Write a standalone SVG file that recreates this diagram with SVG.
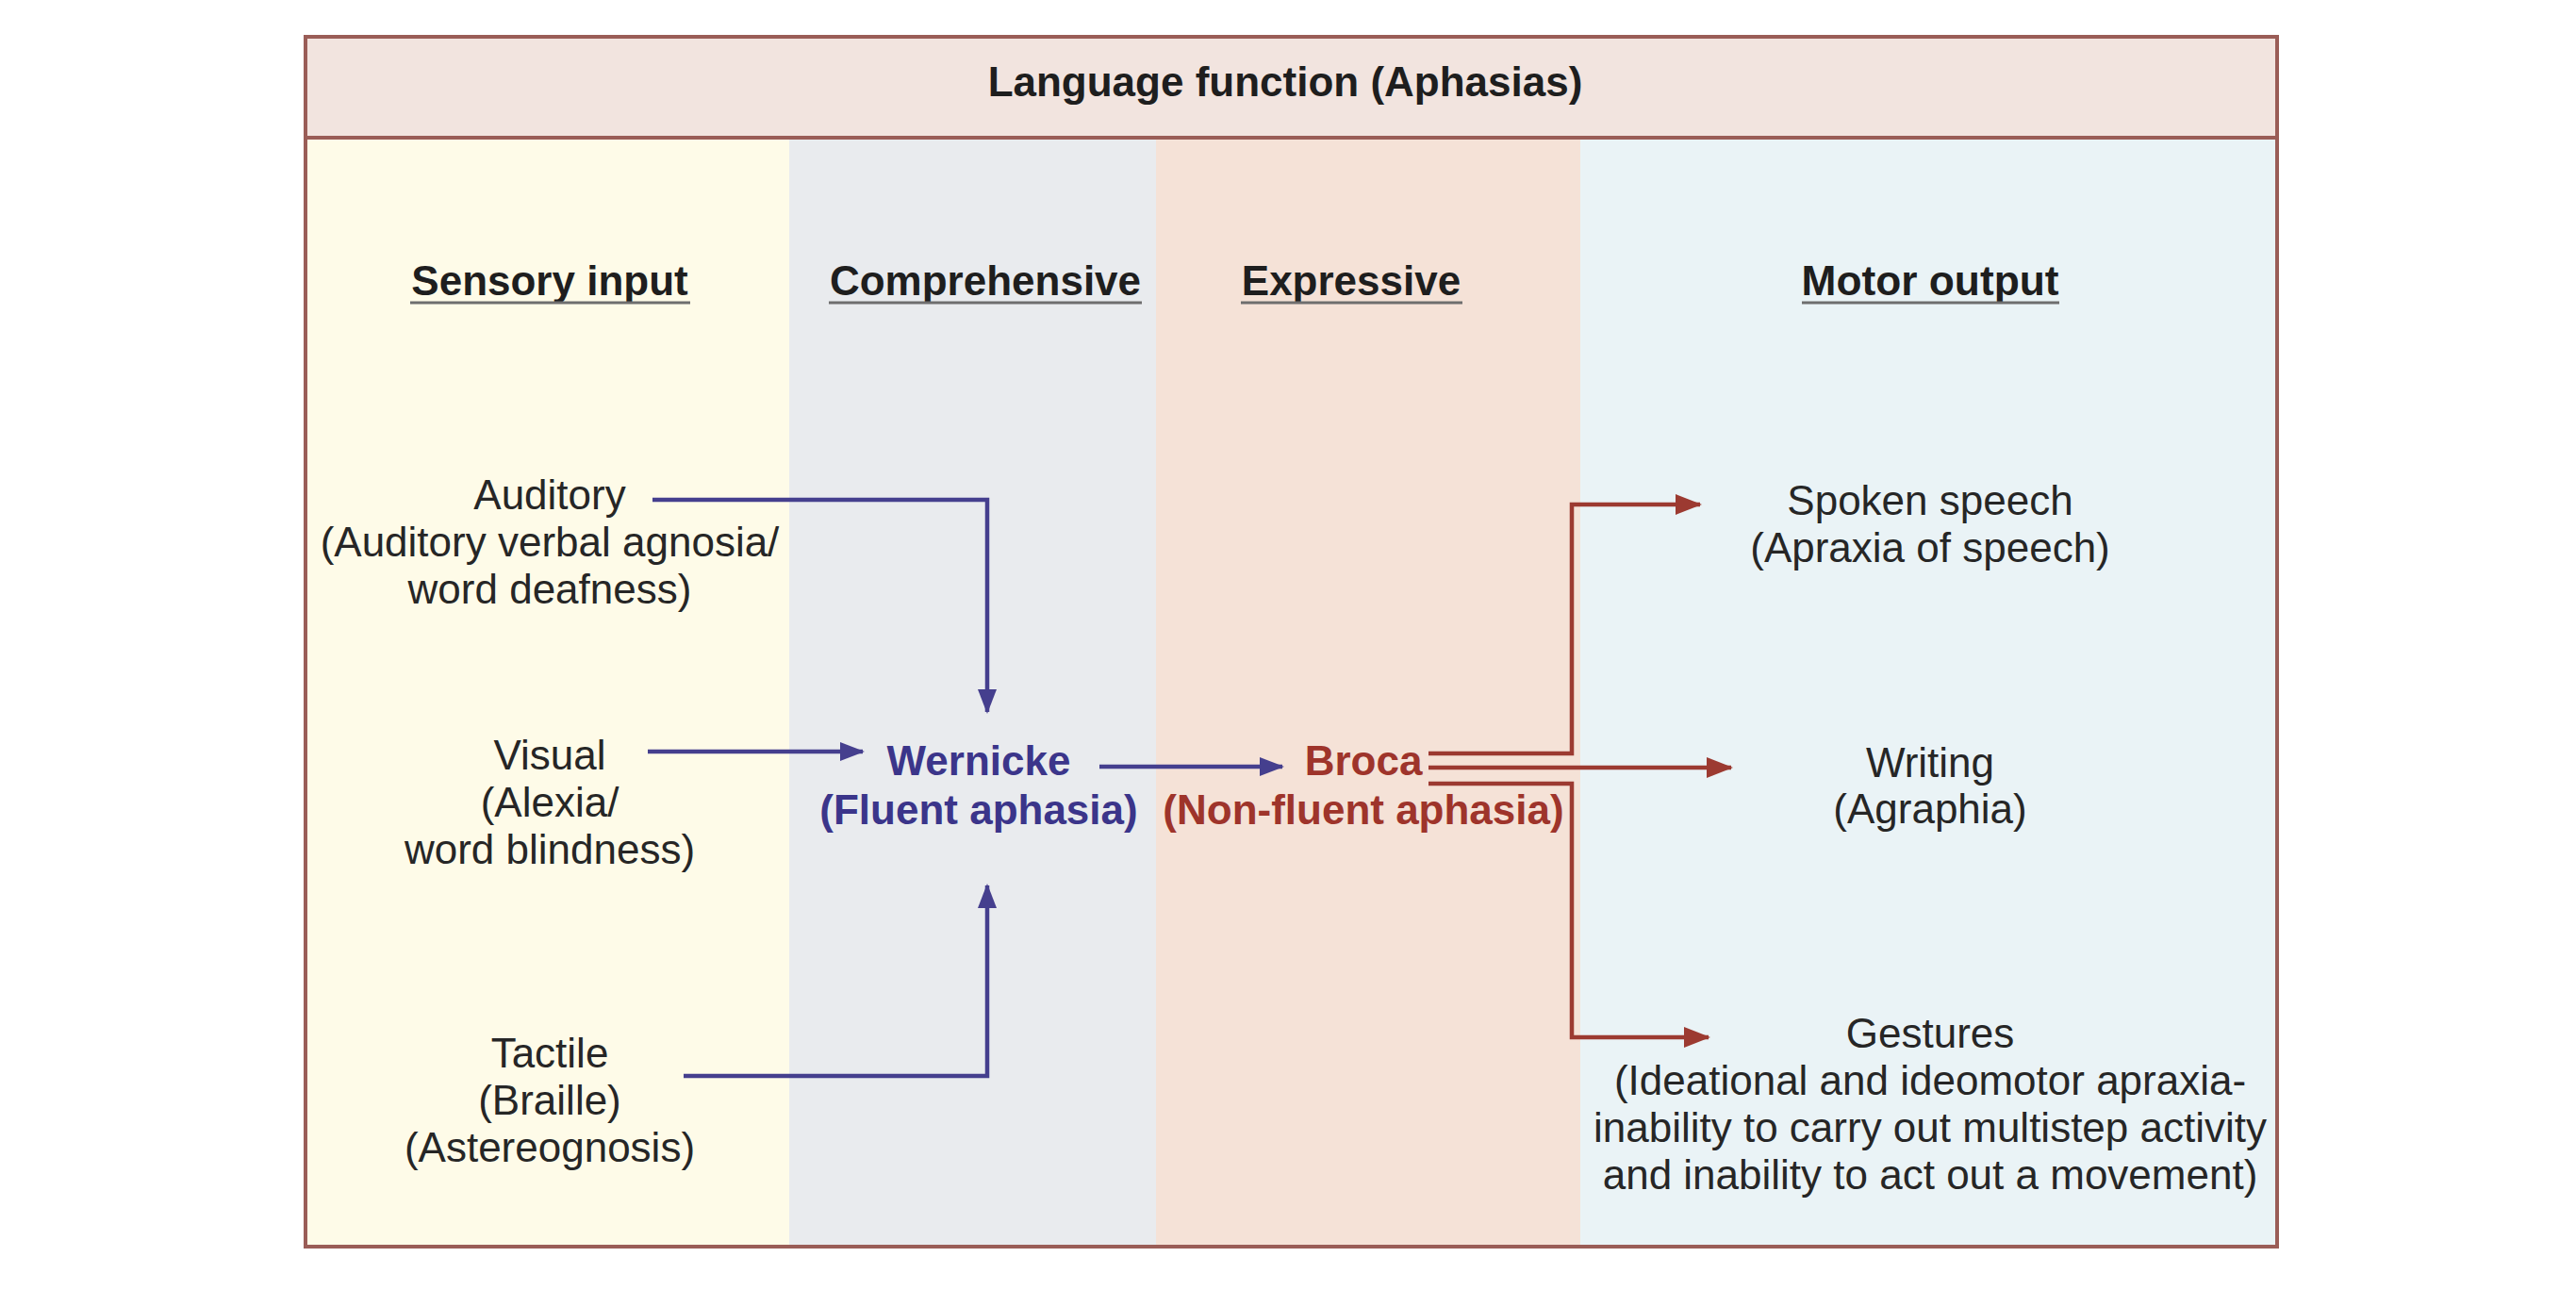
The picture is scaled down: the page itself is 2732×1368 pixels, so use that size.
<svg xmlns="http://www.w3.org/2000/svg" width="2732" height="1368" viewBox="0 0 2732 1368">
<style>
.t{font-family:"Liberation Sans",Arial,sans-serif;font-size:44px;fill:#262626;text-anchor:middle}
.b{font-weight:bold}
.h{font-weight:bold;fill:#1e1e1e}
.ul{stroke:#6e6e6e;stroke-width:3}
.blue{fill:none;stroke:#453f8e;stroke-width:4.5}
.red{fill:none;stroke:#9c3a31;stroke-width:4.5}
</style>
<defs>
<marker id="ab" markerUnits="userSpaceOnUse" markerWidth="26" markerHeight="20" refX="24" refY="10" orient="auto"><path d="M0,0 L26,10 L0,20 z" fill="#453f8e"/></marker>
<marker id="ar" markerUnits="userSpaceOnUse" markerWidth="28" markerHeight="22" refX="26" refY="11" orient="auto"><path d="M0,0 L28,11 L0,22 z" fill="#9c3a31"/></marker>
</defs>
<rect width="2732" height="1368" fill="#ffffff"/>
<g id="columns">
<rect x="325" y="146" width="512" height="1175" fill="#fefbe8"/>
<rect x="837" y="146" width="389" height="1175" fill="#e9ebee"/>
<rect x="1226" y="146" width="450" height="1175" fill="#f5e2d7"/>
<rect x="1676" y="146" width="738" height="1175" fill="#eaf3f6"/>
</g>
<g id="header">
<rect x="325" y="40" width="2089" height="106" fill="#f2e4df"/>
<text class="t h" x="1363" y="102">Language function (Aphasias)</text>
</g>
<rect x="324" y="39" width="2091" height="1283" fill="none" stroke="#9a5d57" stroke-width="4"/>
<line x1="324" y1="146" x2="2415" y2="146" stroke="#9a5d57" stroke-width="4"/>
<g id="col-headers">
<text class="t h" x="583" y="313">Sensory input</text>
<line class="ul" x1="435" y1="321" x2="732" y2="321"/>
<text class="t h" x="1045" y="313">Comprehensive</text>
<line class="ul" x1="879" y1="321" x2="1211" y2="321"/>
<text class="t h" x="1433" y="313">Expressive</text>
<line class="ul" x1="1316" y1="321" x2="1551" y2="321"/>
<text class="t h" x="2047" y="313" textLength="273" lengthAdjust="spacingAndGlyphs">Motor output</text>
<line class="ul" x1="1911" y1="321" x2="2184" y2="321"/>
</g>
<g id="auditory">
<text class="t" x="583" y="540">Auditory</text>
<text class="t" x="583" y="590">(Auditory verbal agnosia/</text>
<text class="t" x="583" y="640">word deafness)</text>
</g>
<g id="visual">
<text class="t" x="583" y="816">Visual</text>
<text class="t" x="583" y="866">(Alexia/</text>
<text class="t" x="583" y="916">word blindness)</text>
</g>
<g id="tactile">
<text class="t" x="583" y="1132">Tactile</text>
<text class="t" x="583" y="1182">(Braille)</text>
<text class="t" x="583" y="1232">(Astereognosis)</text>
</g>
<g id="wernicke">
<text class="t b" x="1038" y="822" style="fill:#3b358a">Wernicke</text>
<text class="t b" x="1038" y="874" style="fill:#3b358a">(Fluent aphasia)</text>
</g>
<g id="broca">
<text class="t b" x="1446" y="822" style="fill:#9e342b">Broca</text>
<text class="t b" x="1446" y="874" style="fill:#9e342b">(Non-fluent aphasia)</text>
</g>
<g id="spoken">
<text class="t" x="2047" y="546">Spoken speech</text>
<text class="t" x="2047" y="596">(Apraxia of speech)</text>
</g>
<g id="writing">
<text class="t" x="2047" y="824">Writing</text>
<text class="t" x="2047" y="873">(Agraphia)</text>
</g>
<g id="gestures">
<text class="t" x="2047" y="1111">Gestures</text>
<text class="t" x="2047" y="1161">(Ideational and ideomotor apraxia-</text>
<text class="t" x="2047" y="1211">inability to carry out multistep activity</text>
<text class="t" x="2047" y="1261">and inability to act out a movement)</text>
</g>
<g id="connectors">
<path class="blue" d="M692,530 H1047 V755" marker-end="url(#ab)"/>
<path class="blue" d="M687,797 H915" marker-end="url(#ab)"/>
<path class="blue" d="M725,1141 H1047 V939" marker-end="url(#ab)"/>
<path class="blue" d="M1166,813 H1360" marker-end="url(#ab)"/>
<path class="red" d="M1515,799 H1667 V535 H1803" marker-end="url(#ar)"/>
<path class="red" d="M1515,814 H1836" marker-end="url(#ar)"/>
<path class="red" d="M1515,831 H1667 V1100 H1812" marker-end="url(#ar)"/>
</g>
</svg>
